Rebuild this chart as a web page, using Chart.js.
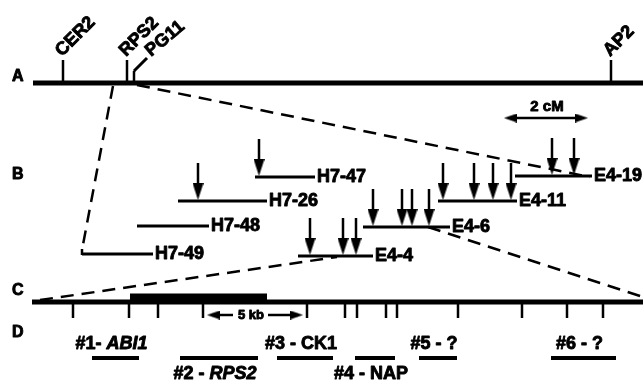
<!DOCTYPE html>
<html>
<head>
<meta charset="utf-8">
<script src="https://cdn.jsdelivr.net/npm/chart.js@4"></script>
<style>
  body { margin: 0; background: #fff; }
  canvas { display: block; }
</style>
</head>
<body>
<canvas id="mapChart" width="643" height="380"></canvas>
<script>
// map A (cM scale), markers
const markerNames = ['CER2', 'RPS2', 'PG11', 'AP2'];
const markerPos = [63, 127, 134, 611];

// B: YAC / cosmid clones and their insertion arrows
const cloneNames = ['H7-49', 'H7-48', 'H7-26', 'H7-47', 'E4-4', 'E4-6', 'E4-11', 'E4-19'];
const cloneStart = [82, 137, 178, 255, 298, 363, 438, 515];
const cloneEnd = [153, 209, 267, 315, 373, 450, 517, 592];
const cloneRow = [254, 226, 201, 177, 256, 227, 201, 176];
const insertions = [[], [], [198], [259], [310, 343, 356], [373, 402, 412, 429], [443, 474, 493, 511], [552, 574]];

// C: restriction map ticks and the contig block
const cTicks = [73, 129, 158, 203, 307, 345, 357, 386, 397, 458, 522, 567, 603];
const contigBlock = [130, 267];

// D: transcripts
const geneNames = ['#1- ', '#2 - ', '#3 - CK1', '#4 - NAP', '#5 - ?', '#6 - ?'];
const geneItalic = ['ABI1', 'RPS2', '', '', '', ''];
const geneStart = [92, 180, 277, 355, 419, 551];
const geneEnd = [139, 258, 333, 395, 457, 616];
const geneBelow = [false, true, false, true, false, false];

// row levels
const yA = 83, yC = 302, yD = 358;
const FONT = '"Liberation Sans", Arial, sans-serif';

function head(w, h) {
  const c = document.createElement('canvas');
  c.width = w; c.height = h;
  const g = c.getContext('2d');
  g.fillStyle = '#000';
  g.beginPath();
  g.moveTo(0, 0); g.lineTo(w, 0); g.lineTo(w / 2, h); g.closePath();
  g.fill();
  return c;
}
const downHead = head(11, 17);
const sideHead = head(9, 13);

const datasets = [];
function seg(x1, y1, x2, y2, w, dash) {
  datasets.push({
    data: [{x: x1, y: y1}, {x: x2, y: y2}],
    showLine: true, borderColor: '#000', borderWidth: w,
    borderDash: dash || [], borderCapStyle: 'butt',
    pointRadius: 0
  });
}
function heads(pts, style, rot) {
  datasets.push({
    data: pts, showLine: false,
    pointStyle: style, pointRadius: 5, pointRotation: rot,
    backgroundColor: '#000', borderColor: '#000'
  });
}

// A
seg(33, yA, 643, yA, 5);
markerNames.forEach((n, i) => {
  if (n === 'PG11') {
    seg(markerPos[i], yA, markerPos[i], 71, 2.5);
    seg(markerPos[i], 71, markerPos[i] + 13, 58, 3);
  } else {
    seg(markerPos[i], yA, markerPos[i], 60, 2.5);
  }
});
// 2 cM scale
seg(510, 118, 582, 118, 2.5);
heads([{x: 510.5, y: 118}], sideHead, 90);
heads([{x: 581.5, y: 118}], sideHead, -90);

// B clones and arrows
const arrowPts = [];
cloneNames.forEach((n, i) => {
  seg(cloneStart[i], cloneRow[i], cloneEnd[i], cloneRow[i], 3);
  insertions[i].forEach(p => {
    seg(p, cloneRow[i] - 38, p, cloneRow[i] - 12, 2.5);
    arrowPts.push({x: p, y: cloneRow[i] - 9.5});
  });
});
heads(arrowPts, downHead, 0);

// dashed expansion lines
const dash = [13, 8];
seg(113, 86, 82, 250, 2.5, dash);
seg(137, 85, 590, 177, 2.5, dash);
seg(40, 300, 337, 257, 2.5, dash);
seg(428, 227, 643, 297, 2.5, dash);
seg(82, 249, 82, 255, 2.5);

// C
seg(32, yC, 643, yC, 5);
seg(contigBlock[0], 298, contigBlock[1], 298, 9);
cTicks.forEach(t => seg(t, yC, t, 318, 2.5));
// 5 kb scale
seg(212, 315, 233, 315, 2.5);
seg(268, 315, 298, 315, 2.5);
heads([{x: 213.5, y: 315}], sideHead, 90);
heads([{x: 296.5, y: 315}], sideHead, -90);

// D
geneNames.forEach((n, i) => seg(geneStart[i], yD, geneEnd[i], yD, 4));

// heavy print look: fill + thin stroke
function ink(ctx, s, px, py) {
  ctx.fillText(s, px, py);
  ctx.strokeText(s, px, py);
}

const textPlugin = {
  id: 'mapText',
  afterDatasetsDraw(chart) {
    const {ctx, scales: {x, y}} = chart;
    ctx.save();
    ctx.fillStyle = '#000';
    ctx.strokeStyle = '#000';
    ctx.lineWidth = 0.9;
    ctx.lineJoin = 'round';

    // panel letters
    ctx.font = 'bold 16px ' + FONT;
    ctx.textBaseline = 'middle';
    ctx.textAlign = 'left';
    [['A', 77], ['B', 175], ['C', 291], ['D', 333]].forEach(([l, v]) => ink(ctx, l, 12, y.getPixelForValue(v)));

    // marker labels, rotated
    ctx.font = 'bold 18px ' + FONT;
    ctx.textBaseline = 'alphabetic';
    markerNames.forEach((n, i) => {
      const px = n === 'PG11' ? markerPos[i] + 17 : markerPos[i] - 1;
      ctx.save();
      ctx.translate(x.getPixelForValue(px), y.getPixelForValue(57));
      ctx.rotate(n === 'PG11' ? -40 * Math.PI / 180 : -45 * Math.PI / 180);
      ink(ctx, n, 0, 0);
      ctx.restore();
    });

    // clone labels
    ctx.textBaseline = 'middle';
    cloneNames.forEach((n, i) => ink(ctx, n, x.getPixelForValue(cloneEnd[i] + 2), y.getPixelForValue(cloneRow[i])));

    // scale labels
    ctx.textAlign = 'center';
    ctx.font = 'bold 15px ' + FONT;
    ink(ctx, '2 cM', x.getPixelForValue(547), y.getPixelForValue(107));
    ctx.font = 'bold 13px ' + FONT;
    ink(ctx, '5 kb', x.getPixelForValue(251), y.getPixelForValue(315));

    // gene labels
    ctx.textBaseline = 'alphabetic';
    ctx.textAlign = 'left';
    geneNames.forEach((n, i) => {
      ctx.font = 'bold 18px ' + FONT;
      const w1 = ctx.measureText(n).width;
      ctx.font = 'italic bold 18px ' + FONT;
      const w2 = ctx.measureText(geneItalic[i]).width;
      const mid = x.getPixelForValue((geneStart[i] + geneEnd[i]) / 2) - 4;
      const left = mid - (w1 + w2) / 2;
      const base = y.getPixelForValue(geneBelow[i] ? 379 : 349);
      ctx.font = 'bold 18px ' + FONT;
      ink(ctx, n, left, base);
      ctx.font = 'italic bold 18px ' + FONT;
      ink(ctx, geneItalic[i], left + w1, base);
    });
    ctx.restore();
  }
};

new Chart(document.getElementById('mapChart'), {
  type: 'scatter',
  data: { datasets },
  options: {
    responsive: false,
    animation: false,
    devicePixelRatio: 1,
    layout: { padding: 0, autoPadding: false },
    scales: {
      x: { type: 'linear', min: 0, max: 643, display: false },
      y: { type: 'linear', min: 0, max: 380, reverse: true, display: false }
    },
    plugins: { legend: { display: false }, tooltip: { enabled: false } }
  },
  plugins: [textPlugin]
});
</script>
</body>
</html>
